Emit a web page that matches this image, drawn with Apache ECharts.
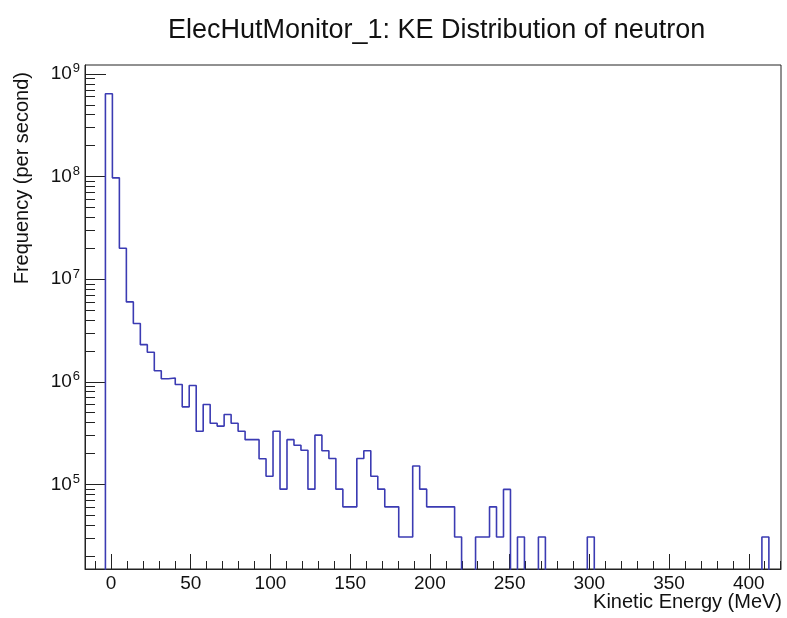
<!DOCTYPE html>
<html><head><meta charset="utf-8">
<script src="https://cdn.jsdelivr.net/npm/echarts@6/dist/echarts.min.js"></script>
<style>html,body{margin:0;padding:0;background:#fff}#c{width:787px;height:618px}</style>
</head><body><div id="c"></div>
<script>
// ---- data ----
const titleText = 'ElecHutMonitor_1: KE Distribution of neutron';
const xTitle = 'Kinetic Energy (MeV)';
const yTitle = 'Frequency (per second)';
const binStart = -3.5;      // MeV, left edge of first filled bin
const binWidth = 4.38;      // MeV
const binValues = [
  6.4e8, 9.7e7, 2.0e7, 6.0e6, 3.7e6, 2.3e6, 1.94e6, 1.28e6, 1.07e6, 1.09e6,
  9.4e5, 5.7e5, 9.2e5, 3.3e5, 6.0e5, 3.95e5, 3.7e5, 4.8e5, 3.95e5, 3.3e5,
  2.73e5, 2.73e5, 1.78e5, 1.2e5, 3.3e5, 9.0e4, 2.73e5, 2.41e5, 2.15e5, 9.0e4,
  3.02e5, 2.13e5, 1.79e5, 9.0e4, 6.05e4, 6.05e4, 1.79e5, 2.13e5, 1.2e5, 9.0e4,
  6.05e4, 6.05e4, 3.07e4, 3.07e4, 1.51e5, 9.0e4, 6.05e4, 6.05e4, 6.05e4, 6.05e4,
  3.07e4, 0, 0, 3.07e4, 3.07e4, 6.05e4, 3.07e4, 8.95e4, 0, 3.07e4,
  0, 0, 3.07e4, 0, 0, 0, 0, 0, 0, 3.07e4,
  0, 0, 0, 0, 0, 0, 0, 0, 0, 0,
  0, 0, 0, 0, 0, 0, 0, 0, 0, 0,
  0, 0, 0, 0, 3.07e4
];
const xTickLabels = [0, 50, 100, 150, 200, 250, 300, 350, 400];
const yTickLabels = [1e5, 1e6, 1e7, 1e8, 1e9];
const xRange = [-16.3, 420.2];
const yRange = [1.5e4, 1.22e9];

// ---- build step outline from bins ----
const floorVal = 1e3; // empty bins drop below the frame (clipped)
const steps = [[xRange[0], floorVal], [binStart, floorVal]];
binValues.forEach((v, i) => {
  const x0 = binStart + i * binWidth, x1 = x0 + binWidth;
  const y = v > 0 ? v : floorVal;
  steps.push([x0, y], [x1, y]);
});
steps.push([binStart + binValues.length * binWidth, floorVal]);

const xMinor = [];
for (let v = -10; v <= 420; v += 10) xMinor.push(v);
const yMinor = [];
for (let e = 4; e <= 8; e++) for (let m = 2; m <= 9; m++) yMinor.push(m * Math.pow(10, e));

const font = 'Liberation Sans, Arial, Helvetica, sans-serif';
const axisCol = '#222';

const chart = echarts.init(document.getElementById('c'), null, {renderer: 'canvas'});
chart.setOption({
  animation: false,
  backgroundColor: '#fff',
  title: {
    text: titleText, left: 163, top: 12,
    textStyle: {fontFamily: font, fontSize: 27, fontWeight: 'normal', color: '#111'}
  },
  grid: {left: 85, right: 6, top: 65, bottom: 49, show: true, borderColor: axisCol, borderWidth: 1, backgroundColor: '#fff', containLabel: false, outerBoundsMode: 'none'},
  xAxis: [{
    type: 'value', min: xRange[0], max: xRange[1], position: 'bottom',
    axisLine: {show: true, onZero: false, lineStyle: {color: axisCol, width: 1}},
    axisTick: {show: true, inside: true, length: 15, customValues: xTickLabels, lineStyle: {color: axisCol}},
    axisLabel: {show: true, customValues: xTickLabels, margin: 5, fontFamily: font, fontSize: 19, color: '#111'},
    splitLine: {show: false}
  }, {
    type: 'value', min: xRange[0], max: xRange[1], position: 'bottom', gridIndex: 0,
    axisLine: {show: false, onZero: false},
    axisTick: {show: true, inside: true, length: 8, customValues: xMinor, lineStyle: {color: axisCol}},
    axisLabel: {show: false}, splitLine: {show: false}
  }],
  yAxis: [{
    type: 'log', logBase: 10, min: yRange[0], max: yRange[1], position: 'left',
    axisLine: {show: true, onZero: false, lineStyle: {color: axisCol, width: 1}},
    axisTick: {show: true, inside: true, length: 21, customValues: yTickLabels, lineStyle: {color: axisCol}},
    axisLabel: {
      show: true, customValues: yTickLabels, margin: 5,
      formatter: v => '{b|10}{e|' + Math.round(Math.log10(v)) + '}',
      rich: {
        b: {fontFamily: font, fontSize: 19, color: '#111'},
        e: {fontFamily: font, fontSize: 13, color: '#111', padding: [0, 0, 10, 1]}
      }
    },
    splitLine: {show: false}
  }, {
    type: 'log', logBase: 10, min: yRange[0], max: yRange[1], position: 'left',
    axisLine: {show: false, onZero: false},
    axisTick: {show: true, inside: true, length: 10, customValues: yMinor, lineStyle: {color: axisCol}},
    axisLabel: {show: false}, splitLine: {show: false}
  }],
  graphic: [{
    type: 'text', x: 22, y: 72, rotation: Math.PI / 2,
    style: {text: yTitle, fontFamily: font, fontSize: 20, fill: '#111', textAlign: 'right', textVerticalAlign: 'middle'}
  }, {
    type: 'text', x: 782, y: 602,
    style: {text: xTitle, fontFamily: font, fontSize: 20, fill: '#111', textAlign: 'right', textVerticalAlign: 'middle'}
  }],
  series: [{
    type: 'line', xAxisIndex: 0, yAxisIndex: 0, data: steps,
    showSymbol: false, symbol: 'none', clip: true,
    lineStyle: {color: '#3b3bb3', width: 1.6}
  }]
});
</script>
</body></html>
